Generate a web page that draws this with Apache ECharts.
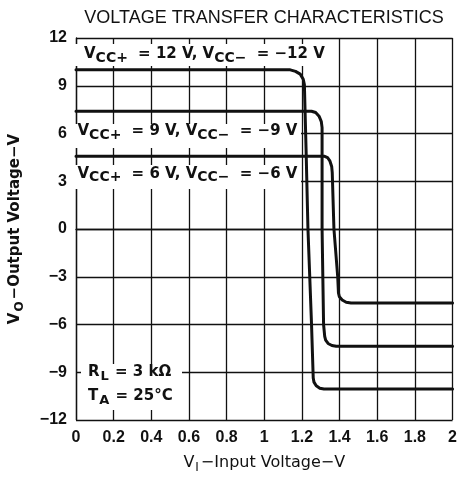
<!DOCTYPE html>
<html><head><meta charset="utf-8">
<script src="https://cdn.jsdelivr.net/npm/echarts@6/dist/echarts.min.js"></script>
<style>html,body{margin:0;padding:0;background:#fff}#c{width:460px;height:479px}</style>
</head><body><div id="c"></div>
<script>
// ---- data ----
const titleText = 'VOLTAGE TRANSFER CHARACTERISTICS';
const xTickLabels = ['0', '0.2', '0.4', '0.6', '0.8', '1', '1.2', '1.4', '1.6', '1.8', '2'];
const yTickLabels = ['\u221212', '\u22129', '\u22126', '\u22123', '0', '3', '6', '9', '12'];
const seriesNames = ['VCC\u00b1 = \u00b112 V', 'VCC\u00b1 = \u00b19 V', 'VCC\u00b1 = \u00b16 V'];
// [input voltage V, output voltage V]
const vcc12 = [[0, 10.0], [1.138, 10.0], [1.166, 9.9], [1.191, 9.73], [1.207, 9.41], [1.213, 9.07],
  [1.222, 5], [1.232, 0], [1.251, -6], [1.260, -9.36], [1.264, -9.62], [1.276, -9.85],
  [1.295, -10.0], [1.317, -10.05], [2, -10.05]];
const vcc9 = [[0, 7.4], [1.251, 7.4], [1.273, 7.32], [1.291, 7.09], [1.303, 6.75], [1.307, 6.37],
  [1.307, 0], [1.315, -6], [1.321, -6.74], [1.326, -6.98], [1.339, -7.19], [1.359, -7.32],
  [1.382, -7.37], [2, -7.37]];
const vcc6 = [[0, 4.57], [1.321, 4.57], [1.336, 4.49], [1.349, 4.26], [1.358, 3.93], [1.361, 3.54],
  [1.37, 0], [1.39, -3], [1.394, -4.02], [1.399, -4.26], [1.414, -4.46], [1.435, -4.6],
  [1.461, -4.65], [2, -4.65]];
const labelSupply = [['12', '\u221212'], ['9', '\u22129'], ['6', '\u22126']];
const rlText = '3 k\u03a9';
const taText = '25\u00b0C';

// ---- chart ----
const INK = '#111';
const LBL = 'DejaVu Sans';
const chart = echarts.init(document.getElementById('c'), null, { renderer: 'canvas' });

function vccLabel(p) {
  return '{m|V}{s|CC+}{m| = ' + p[0] + ' V, V}{s|CC\u2212}{m| = ' + p[1] + ' V}';
}
const rich = {
  m: { fontFamily: LBL, fontWeight: 'bold', fontSize: 15, fill: INK, verticalAlign: 'bottom', padding: [0, 0, 3, 0] },
  s: { fontFamily: LBL, fontWeight: 'bold', fontSize: 14, fill: INK, verticalAlign: 'bottom', padding: [0, 5, 0, 0] }
};
const rich4 = {
  m: { fontFamily: LBL, fontWeight: 'bold', fontSize: 15, fill: INK, verticalAlign: 'bottom', padding: [0, 0, 3, 0] },
  s: { fontFamily: LBL, fontWeight: 'bold', fontSize: 13, fill: INK, verticalAlign: 'bottom', padding: [0, 1, 0, 1] }
};
function box(x, y, w, h) {
  return { type: 'rect', z: 1, silent: true, shape: { x: x, y: y, width: w, height: h }, style: { fill: '#fff' } };
}
function txt(x, y, text, r) {
  return { type: 'text', z: 3, silent: true, x: x, y: y,
    style: { text: text, rich: r, align: 'left', verticalAlign: 'middle', fill: INK } };
}

function mkSeries(name, data) {
  return {
    name: name, type: 'line', data: data, symbol: 'none', showSymbol: false, smooth: false,
    z: 2, silent: true, animation: false,
    lineStyle: { color: INK, width: 3, join: 'round', cap: 'round' },
    emphasis: { disabled: true }
  };
}

chart.setOption({
  animation: false,
  backgroundColor: '#fff',
  title: {
    text: titleText, left: 259, top: 4, textAlign: 'center',
    textStyle: { fontFamily: 'Liberation Sans', fontWeight: 'normal', fontSize: 18, color: INK }
  },
  grid: { left: 73, top: 38, width: 382, height: 382, containLabel: false },
  xAxis: {
    type: 'value', min: 0, max: 2, interval: 0.2,
    name: '{m|V}{s|I}{m|\u2212Input Voltage\u2212V}',
    nameLocation: 'middle', nameGap: 35,
    nameTextStyle: {
      rich: {
        m: { fontFamily: LBL, fontSize: 16, color: INK, verticalAlign: 'bottom', padding: [0, 0, 3, 0] },
        s: { fontFamily: LBL, fontSize: 12, color: INK, verticalAlign: 'bottom', padding: [0, 2, 0, 1] }
      }
    },
    axisLine: { show: true, lineStyle: { color: INK, width: 1.3 } },
    axisTick: { show: false },
    splitLine: { show: true, lineStyle: { color: INK, width: 1.3 } },
    axisLabel: {
      margin: 10, color: INK, fontFamily: 'Liberation Sans', fontWeight: 'bold', fontSize: 16,
      formatter: function (v) { return xTickLabels[Math.round(v / 0.2)]; }
    }
  },
  yAxis: {
    type: 'value', min: -12, max: 12, interval: 3,
    name: '{m|V}{s|O}{m|\u2212Output Voltage\u2212V}',
    nameLocation: 'middle', nameGap: 50, nameRotate: 90,
    nameTextStyle: {
      rich: {
        m: { fontFamily: LBL, fontWeight: 'bold', fontSize: 15, color: INK, verticalAlign: 'bottom', padding: [0, 0, 3, 0] },
        s: { fontFamily: LBL, fontWeight: 'bold', fontSize: 12, color: INK, verticalAlign: 'bottom', padding: [0, 2, 0, 1] }
      }
    },
    axisLine: { show: true, lineStyle: { color: INK, width: 1.3 } },
    axisTick: { show: false },
    splitLine: { show: true, lineStyle: { color: INK, width: 1.3 } },
    axisLabel: {
      margin: 9, color: INK, fontFamily: 'Liberation Sans', fontWeight: 'bold', fontSize: 16,
      formatter: function (v) { return yTickLabels[Math.round((v + 12) / 3)]; }
    }
  },
  series: [
    mkSeries(seriesNames[0], vcc12),
    mkSeries(seriesNames[1], vcc9),
    mkSeries(seriesNames[2], vcc6)
  ],
  graphic: [
    box(74.5, 44, 256, 22),
    box(74.5, 124, 226.5, 24),
    box(74.5, 165, 226.5, 24),
    box(81, 364, 101, 46),
    txt(84, 56, vccLabel(labelSupply[0]), rich),
    txt(77.5, 133, vccLabel(labelSupply[1]), rich),
    txt(77.5, 175.5, vccLabel(labelSupply[2]), rich),
    txt(88, 374, '{m|R}{s|L}{m| = ' + rlText + '}', rich4),
    txt(88, 398, '{m|T}{s|A}{m| = ' + taText + '}', rich4)
  ]
});
</script>
</body></html>
